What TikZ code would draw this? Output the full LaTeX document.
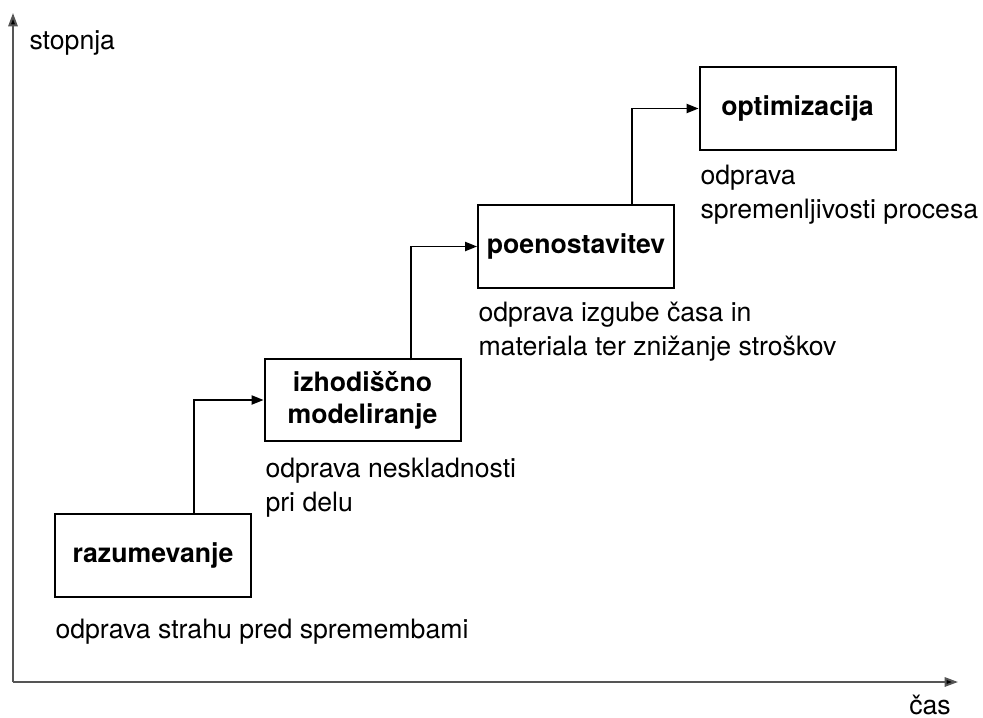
\documentclass[tikz,border=0pt]{standalone}
\usepackage{fontspec}
\setmainfont{TeX Gyre Heros}
\usetikzlibrary{arrows.meta}

\tikzset{every picture/.style={line width=0.75pt}}
\tikzset{
  stage/.style={draw, line width=1.5pt, minimum width=147pt, minimum height=62pt,
    align=center, inner sep=0pt, font=\fontsize{20}{24}\selectfont\bfseries},
  note/.style={anchor=north west, align=left, inner sep=0pt,
    font=\fontsize{20}{25.5}\selectfont},
  flow/.style={line width=1pt, -{Triangle[length=9pt,width=7pt]}},
  axis/.style={draw={rgb,255:red,85;green,85;blue,85}, line width=1.5pt,
    -{Triangle[length=10pt,width=7pt,fill=black]}}
}

\begin{document}
\begin{tikzpicture}[x=0.75pt,y=0.75pt,yscale=-1,xscale=1]
\useasboundingbox (0,0) rectangle (983,718);

%Axes
\coordinate (origin) at (13,682);
\coordinate (ytop) at (13,13);
\coordinate (xend) at (958,682);
\draw [axis] (origin) -- (ytop);
\draw [axis] (origin) -- (xend);

% Text Node
\node [anchor=west, inner sep=0pt, font=\fontsize{20}{24}\selectfont] (ylab) at (29,43) {stopnja};
% Text Node
\node [anchor=base, inner sep=0pt, font=\fontsize{20}{24}\selectfont] (xlab) at (930,714) {čas};

%Shape: Rectangle
\node [stage] (raz) at (153,555.5) {razumevanje};
%Shape: Rectangle
\node [stage] (izh) at (362.5,400) {izhodiščno\\modeliranje};
%Shape: Rectangle
\node [stage] (poe) at (576,246.5) {poenostavitev};
%Shape: Rectangle
\node [stage] (opt) at (797.5,108.5) {optimizacija};

%Straight Lines
\coordinate (s1) at (194,513);
\draw [flow] (s1) |- (izh.west);
%Straight Lines
\coordinate (s2) at (411,360);
\draw [flow] (s2) |- (poe.west);
%Straight Lines
\coordinate (s3) at (632,205);
\draw [flow] (s3) |- (opt.west);

% Text Node
\node [note] (t1) at (55,619) {odprava strahu pred spremembami};
% Text Node
\node [note] (t2) at (265,458) {odprava neskladnosti\\pri delu};
% Text Node
\node [note] (t3) at (478,302) {odprava izgube časa in\\materiala ter znižanje stroškov};
% Text Node
\node [note] (t4) at (700,165) {odprava\\spremenljivosti procesa};

\end{tikzpicture}
\end{document}
